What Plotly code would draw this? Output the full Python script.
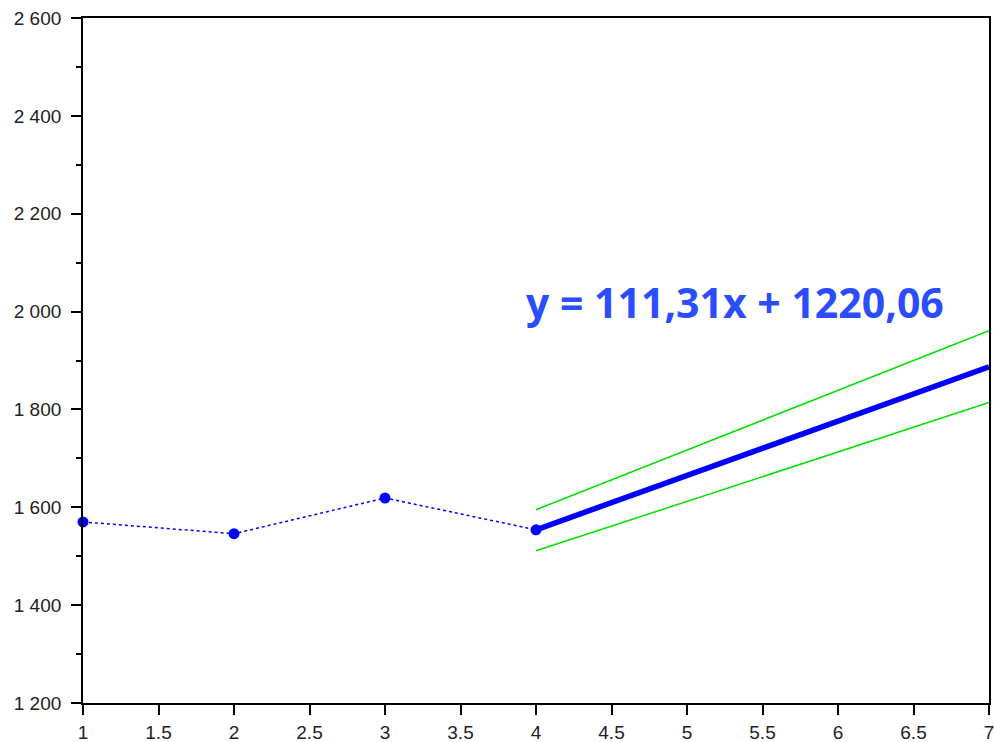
import plotly.graph_objects as go

# Data
x_obs = [1, 2, 3, 4]
y_obs = [1570, 1546, 1619, 1554]

x_trend = [4, 7]
y_trend = [1554, 1887]

x_upper = [4, 7]
y_upper = [1595, 1961]

x_lower = [4, 7]
y_lower = [1511, 1814]

y_ticks = [1200, 1400, 1600, 1800, 2000, 2200, 2400, 2600]
y_tick_labels = ["1 200", "1 400", "1 600", "1 800", "2 000", "2 200", "2 400", "2 600"]
x_ticks = [1, 1.5, 2, 2.5, 3, 3.5, 4, 4.5, 5, 5.5, 6, 6.5, 7]
x_tick_labels = ["1", "1.5", "2", "2.5", "3", "3.5", "4", "4.5", "5", "5.5", "6", "6.5", "7"]

equation = "y = 111,31x + 1220,06"

fig = go.Figure()
fig.add_trace(go.Scatter(x=x_upper, y=y_upper, mode="lines",
                         line=dict(color="#00e000", width=1.5), showlegend=False))
fig.add_trace(go.Scatter(x=x_lower, y=y_lower, mode="lines",
                         line=dict(color="#00e000", width=1.5), showlegend=False))
fig.add_trace(go.Scatter(x=x_trend, y=y_trend, mode="lines",
                         line=dict(color="#0000ff", width=5.5), showlegend=False))
fig.add_trace(go.Scatter(x=x_obs, y=y_obs, mode="lines+markers",
                         line=dict(color="#0000ff", width=1.5, dash="3px,3px"),
                         marker=dict(color="#0000ff", size=11),
                         cliponaxis=False, showlegend=False))

fig.add_annotation(x=5.315, y=2020, text="<b>" + equation + "</b>", showarrow=False,
                   font=dict(family="Open Sans", size=41, color="#2b4cff"))

axis_common = dict(showgrid=False, zeroline=False, showline=True, linecolor="black",
                   linewidth=1.8, mirror=True, ticks="outside", tickcolor="black",
                   tickwidth=1.5, ticklen=10, automargin=False,
                   ticklabeloverflow="allow",
                   tickfont=dict(family="Liberation Sans", size=19, color="#222"))

fig.update_xaxes(range=[1, 7], tickvals=x_ticks, ticktext=x_tick_labels,
                 ticklabelstandoff=1, **axis_common)
fig.update_yaxes(range=[1200, 2600], tickvals=y_ticks, ticktext=y_tick_labels,
                 ticklabelstandoff=6,
                 minor=dict(ticks="outside", dtick=100, ticklen=5, tickcolor="black", tickwidth=1.5),
                 **axis_common)

fig.update_layout(width=994, height=742, margin=dict(l=83, r=5, t=18, b=39),
                  plot_bgcolor="white", paper_bgcolor="white")

fig.write_html("out.html", config={"displayModeBar": False},
               post_script="document.body.style.margin='0';document.body.style.overflow='hidden';")
